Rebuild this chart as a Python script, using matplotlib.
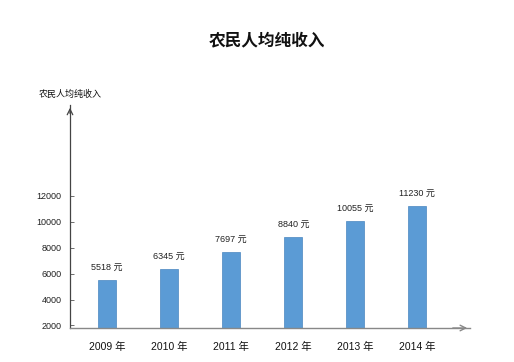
import matplotlib
matplotlib.use("Agg")
import matplotlib.pyplot as plt

plt.rcParams['font.family'] = ['Liberation Sans', 'Noto Sans CJK SC', 'DejaVu Sans']

# data
years = ['2009 年', '2010 年', '2011 年', '2012 年', '2013 年', '2014 年']
income = [5518, 6345, 7697, 8840, 10055, 11230]
yticks = [2000, 4000, 6000, 8000, 10000, 12000]

W, H = 514, 362
fig = plt.figure(figsize=(W / 100, H / 100), dpi=100)
ax = fig.add_axes([70 / W, (H - 328) / H, 400 / W, 223 / H])

x = list(range(len(years)))
ax.bar(x, income, width=0.29, bottom=0, color='#5B9BD5', edgecolor='#4a86c0', linewidth=0.5)

for xi, v in zip(x, income):
    ax.text(xi, v + 550, f'{v} 元', ha='center', va='bottom', fontsize=6.5, color='#222222')

ax.set_xlim(-0.6, 5.85)
ax.set_ylim(1800, 19030)

ax.set_yticks(yticks)
ax.set_yticklabels([str(t) for t in yticks], fontsize=6.5, color='#222222')
ax.tick_params(axis='y', direction='in', length=3, width=0.6, color='#555555', pad=6)
ax.set_xticks(x)
ax.set_xticklabels(years, fontsize=7.5, color='#111111')
ax.tick_params(axis='x', length=0, pad=10)

for s in ['top', 'right']:
    ax.spines[s].set_visible(False)
ax.spines['left'].set_color('#444444')
ax.spines['left'].set_linewidth(0.9)
ax.spines['bottom'].set_color('#888888')
ax.spines['bottom'].set_linewidth(1.0)

# arrow heads
ax.annotate('', xy=(1.0, 0), xycoords='axes fraction', xytext=(0.95, 0),
            arrowprops=dict(arrowstyle='->', color='#888888', lw=1.0))
ax.annotate('', xy=(0, 1.0), xycoords='axes fraction', xytext=(0, 0.95),
            arrowprops=dict(arrowstyle='->', color='#444444', lw=0.9))

fig.text(70 / W, 1 - 94 / H, '农民人均纯收入', ha='center', va='center', fontsize=6.5, color='#111111')
fig.text(267 / W, 1 - 40 / H, '农民人均纯收入', ha='center', va='center', fontsize=12,
         fontweight='bold', color='#111111')

fig.savefig('out.png', dpi=100)
